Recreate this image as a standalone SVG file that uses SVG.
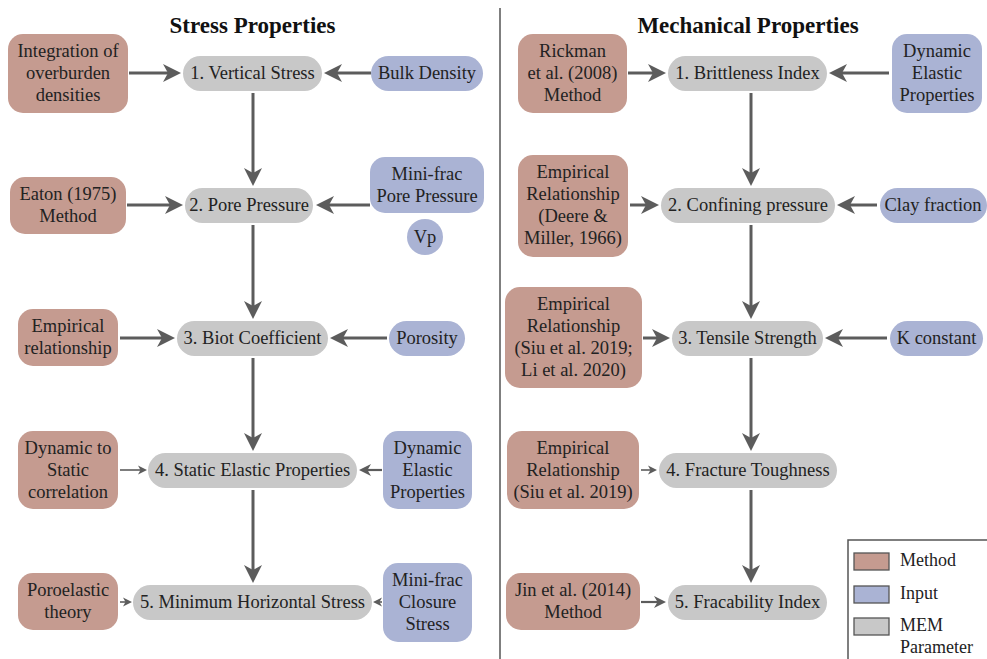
<svg xmlns="http://www.w3.org/2000/svg" width="987" height="659" viewBox="0 0 987 659">
<style>
text.lbl{font-family:"Liberation Serif","Times New Roman",serif;font-size:18.5px;fill:#222;text-anchor:middle}
text.title{font-family:"Liberation Serif","Times New Roman",serif;font-size:23px;font-weight:bold;fill:#111;text-anchor:middle}
text.lg{font-family:"Liberation Serif","Times New Roman",serif;font-size:18px;fill:#222}
.m{fill:#c59b90}
.i{fill:#aab3d4}
.p{fill:#c8c8c8}
.a{stroke:#5c5c5c;stroke-width:3;fill:none;marker-end:url(#big)}
.s{stroke:#5c5c5c;stroke-width:1.6;fill:none;marker-end:url(#small)}
.md{stroke:#5c5c5c;stroke-width:2.2;fill:none;marker-end:url(#mid)}
</style>
<defs>
<marker id="big" markerUnits="userSpaceOnUse" markerWidth="19" markerHeight="19" refX="10" refY="9" orient="auto" viewBox="0 0 19 18">
<path d="M0,0 L18,9 L0,18 L5,9 Z" fill="#5c5c5c"/>
</marker>
<marker id="mid" markerUnits="userSpaceOnUse" markerWidth="13" markerHeight="13" refX="6" refY="6" orient="auto" viewBox="0 0 13 12">
<path d="M0,0 L12,6 L0,12 L3.5,6 Z" fill="#5c5c5c"/>
</marker>
<marker id="small" markerUnits="userSpaceOnUse" markerWidth="10" markerHeight="10" refX="5" refY="4.5" orient="auto" viewBox="0 0 10 9">
<path d="M0,0 L9,4.5 L0,9 L2.5,4.5 Z" fill="#5c5c5c"/>
</marker>
</defs>
<rect width="987" height="659" fill="#ffffff"/>

<line x1="500" y1="8" x2="500" y2="659" stroke="#555" stroke-width="1.5"/>
<text class="title" x="252.5" y="33">Stress Properties</text>
<text class="title" x="748" y="33">Mechanical Properties</text>

<g id="connectors">
<line class="a" x1="129" y1="73" x2="173" y2="73"/>
<line class="a" x1="371" y1="73" x2="332" y2="73"/>
<line class="a" x1="127" y1="205" x2="175" y2="205"/>
<line class="a" x1="370" y1="205" x2="324" y2="205"/>
<line class="a" x1="120" y1="338" x2="167" y2="338"/>
<line class="a" x1="387" y1="338" x2="338" y2="338"/>
<line class="s" x1="120" y1="470" x2="143" y2="470"/>
<line class="md" x1="382" y1="470" x2="365" y2="470"/>
<line class="s" x1="120" y1="602" x2="128" y2="602"/>
<line class="s" x1="382" y1="602" x2="377" y2="602"/>
<line class="a" x1="253" y1="93" x2="253" y2="178"/>
<line class="a" x1="253" y1="225" x2="253" y2="311"/>
<line class="a" x1="253" y1="358" x2="253" y2="443"/>
<line class="a" x1="253" y1="490" x2="253" y2="575"/>

<line class="a" x1="628" y1="73" x2="658" y2="73"/>
<line class="a" x1="889" y1="73" x2="837" y2="73"/>
<line class="a" x1="630" y1="205" x2="651" y2="205"/>
<line class="a" x1="877" y1="205" x2="845" y2="205"/>
<line class="a" x1="643" y1="338" x2="662" y2="338"/>
<line class="a" x1="887" y1="338" x2="833" y2="338"/>
<line class="s" x1="641" y1="470" x2="653" y2="470"/>
<line class="md" x1="641" y1="602" x2="660" y2="602"/>
<line class="a" x1="751" y1="93" x2="751" y2="178"/>
<line class="a" x1="751" y1="225" x2="751" y2="311"/>
<line class="a" x1="751" y1="358" x2="751" y2="443"/>
<line class="a" x1="751" y1="490" x2="751" y2="575"/>
</g>

<!-- Stress column -->
<g id="s_m1"><rect class="m" x="8" y="34" width="120" height="79" rx="15"/>
<text class="lbl"><tspan x="68" y="57">Integration of</tspan><tspan x="68" y="79">overburden</tspan><tspan x="68" y="101">densities</tspan></text></g>
<g id="s_p1"><rect class="p" x="183" y="56" width="139" height="35" rx="17.5"/>
<text class="lbl" x="252.5" y="79">1. Vertical Stress</text></g>
<g id="s_i1"><rect class="i" x="371" y="56" width="112" height="35" rx="17.5"/>
<text class="lbl" x="427" y="79">Bulk Density</text></g>

<g id="s_m2"><rect class="m" x="10" y="177" width="116" height="57" rx="15"/>
<text class="lbl"><tspan x="68" y="200">Eaton (1975)</tspan><tspan x="68" y="222">Method</tspan></text></g>
<g id="s_p2"><rect class="p" x="185" y="188" width="128" height="35" rx="17.5"/>
<text class="lbl" x="249" y="211">2. Pore Pressure</text></g>
<g id="s_i2"><rect class="i" x="370" y="157" width="114" height="56" rx="15"/>
<text class="lbl"><tspan x="427" y="180">Mini-frac</tspan><tspan x="427" y="202">Pore Pressure</tspan></text></g>
<g id="s_i2b"><circle class="i" cx="425" cy="237" r="18"/>
<text class="lbl" x="425" y="243">Vp</text></g>

<g id="s_m3"><rect class="m" x="18" y="309" width="100" height="57" rx="15"/>
<text class="lbl"><tspan x="68" y="332">Empirical</tspan><tspan x="68" y="354">relationship</tspan></text></g>
<g id="s_p3"><rect class="p" x="177" y="321" width="151" height="35" rx="17.5"/>
<text class="lbl" x="252.5" y="344">3. Biot Coefficient</text></g>
<g id="s_i3"><rect class="i" x="389" y="321" width="76" height="35" rx="17.5"/>
<text class="lbl" x="427" y="344">Porosity</text></g>

<g id="s_m4"><rect class="m" x="18" y="431" width="100" height="78" rx="15"/>
<text class="lbl"><tspan x="68" y="454">Dynamic to</tspan><tspan x="68" y="476">Static</tspan><tspan x="68" y="498">correlation</tspan></text></g>
<g id="s_p4"><rect class="p" x="148" y="453" width="209" height="35" rx="17.5"/>
<text class="lbl" x="252.5" y="476">4. Static Elastic Properties</text></g>
<g id="s_i4"><rect class="i" x="383" y="431" width="89" height="78" rx="15"/>
<text class="lbl"><tspan x="427.5" y="454">Dynamic</tspan><tspan x="427.5" y="476">Elastic</tspan><tspan x="427.5" y="498">Properties</tspan></text></g>

<g id="s_m5"><rect class="m" x="18" y="573" width="100" height="57" rx="15"/>
<text class="lbl"><tspan x="68" y="596">Poroelastic</tspan><tspan x="68" y="618">theory</tspan></text></g>
<g id="s_p5"><rect class="p" x="133" y="585" width="239" height="35" rx="17.5"/>
<text class="lbl" x="252.5" y="608">5. Minimum Horizontal Stress</text></g>
<g id="s_i5"><rect class="i" x="383" y="563" width="89" height="79" rx="15"/>
<text class="lbl"><tspan x="427.5" y="586">Mini-frac</tspan><tspan x="427.5" y="608">Closure</tspan><tspan x="427.5" y="630">Stress</tspan></text></g>

<!-- Mechanical column -->
<g id="m_m1"><rect class="m" x="518" y="34" width="109" height="79" rx="15"/>
<text class="lbl"><tspan x="572.5" y="57">Rickman</tspan><tspan x="572.5" y="79">et al. (2008)</tspan><tspan x="572.5" y="101">Method</tspan></text></g>
<g id="m_p1"><rect class="p" x="668" y="56" width="159" height="35" rx="17.5"/>
<text class="lbl" x="747.5" y="79">1. Brittleness Index</text></g>
<g id="m_i1"><rect class="i" x="892" y="34" width="90" height="79" rx="15"/>
<text class="lbl"><tspan x="937" y="57">Dynamic</tspan><tspan x="937" y="79">Elastic</tspan><tspan x="937" y="101">Properties</tspan></text></g>

<g id="m_m2"><rect class="m" x="518" y="155" width="110" height="102" rx="15"/>
<text class="lbl"><tspan x="573" y="178">Empirical</tspan><tspan x="573" y="200">Relationship</tspan><tspan x="573" y="222">(Deere &amp;</tspan><tspan x="573" y="244">Miller, 1966)</tspan></text></g>
<g id="m_p2"><rect class="p" x="661" y="188" width="174" height="35" rx="17.5"/>
<text class="lbl" x="748" y="211">2. Confining pressure</text></g>
<g id="m_i2"><rect class="i" x="880" y="188" width="107" height="35" rx="17.5"/>
<text class="lbl" x="933" y="211">Clay fraction</text></g>

<g id="m_m3"><rect class="m" x="505" y="287" width="137" height="101" rx="15"/>
<text class="lbl"><tspan x="573.5" y="310">Empirical</tspan><tspan x="573.5" y="332">Relationship</tspan><tspan x="573.5" y="354">(Siu et al. 2019;</tspan><tspan x="573.5" y="376">Li et al. 2020)</tspan></text></g>
<g id="m_p3"><rect class="p" x="672" y="321" width="151" height="35" rx="17.5"/>
<text class="lbl" x="747.5" y="344">3. Tensile Strength</text></g>
<g id="m_i3"><rect class="i" x="890" y="321" width="93" height="35" rx="17.5"/>
<text class="lbl" x="936.5" y="344">K constant</text></g>

<g id="m_m4"><rect class="m" x="507" y="431" width="132" height="78" rx="15"/>
<text class="lbl"><tspan x="573" y="454">Empirical</tspan><tspan x="573" y="476">Relationship</tspan><tspan x="573" y="498">(Siu et al. 2019)</tspan></text></g>
<g id="m_p4"><rect class="p" x="659" y="453" width="178" height="35" rx="17.5"/>
<text class="lbl" x="748" y="476">4. Fracture Toughness</text></g>

<g id="m_m5"><rect class="m" x="506" y="573" width="134" height="57" rx="15"/>
<text class="lbl"><tspan x="573" y="596">Jin et al. (2014)</tspan><tspan x="573" y="618">Method</tspan></text></g>
<g id="m_p5"><rect class="p" x="668" y="585" width="159" height="35" rx="17.5"/>
<text class="lbl" x="747.5" y="608">5. Fracability Index</text></g>

<g id="legend">
<rect x="848" y="540" width="145" height="125" fill="#fff" stroke="#555" stroke-width="1.5"/>
<rect class="m" x="854" y="553" width="35" height="17" stroke="#555" stroke-width="1.3"/>
<rect class="i" x="854" y="586" width="35" height="17" stroke="#555" stroke-width="1.3"/>
<rect class="p" x="854" y="618" width="35" height="17" stroke="#555" stroke-width="1.3"/>
<text class="lg" x="900" y="566">Method</text>
<text class="lg" x="900" y="599">Input</text>
<text class="lg" x="900" y="631">MEM</text>
<text class="lg" x="900" y="653">Parameter</text>
</g>
</svg>
